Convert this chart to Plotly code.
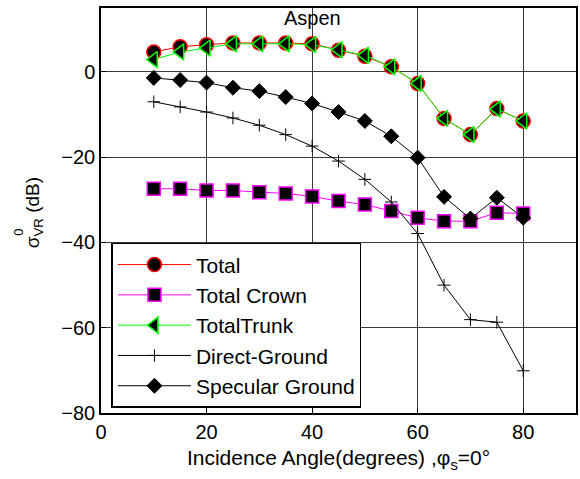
import plotly.graph_objects as go

angles = [10, 15, 20, 25, 30, 35, 40, 45, 50, 55, 60, 65, 70, 75, 80]
total = [4.7, 5.9, 6.4, 6.8, 6.8, 6.8, 6.6, 5.1, 3.7, 1.2, -2.7, -10.9, -14.7, -8.6, -11.5]
total_crown = [-27.4, -27.4, -27.8, -27.8, -28.2, -28.5, -29.2, -30.3, -31.1, -32.6, -34.2, -35.0, -35.0, -33.0, -33.2]
total_trunk = [2.9, 4.7, 5.6, 6.6, 6.6, 6.6, 6.4, 5.2, 3.9, 1.2, -2.7, -10.9, -14.7, -8.7, -11.5]
direct_ground = [-7.0, -8.2, -9.4, -10.8, -12.5, -14.7, -17.4, -20.9, -25.2, -30.5, -37.9, -50.0, -58.1, -58.7, -70.1]
specular_ground = [-1.4, -1.9, -2.5, -3.7, -4.5, -5.9, -7.4, -9.4, -11.5, -15.1, -20.1, -29.3, -34.4, -29.5, -34.2]

x_ticks = [0, 20, 40, 60, 80]
y_ticks = [-80, -60, -40, -20, 0]

FONT = "Liberation Sans, Arial, sans-serif"

fig = go.Figure()
fig.add_trace(go.Scatter(
    x=angles, y=total, name="Total", mode="lines+markers",
    line=dict(color="#ff0000", width=1),
    marker=dict(symbol="circle", size=14, color="black", line=dict(color="#ff0000", width=1.5))))
fig.add_trace(go.Scatter(
    x=angles, y=total_crown, name="Total Crown", mode="lines+markers",
    line=dict(color="#ff00ff", width=1),
    marker=dict(symbol="square", size=13, color="black", line=dict(color="#ff00ff", width=1.5))))
fig.add_trace(go.Scatter(
    x=angles, y=total_trunk, name="TotalTrunk", mode="lines+markers",
    line=dict(color="#00ff00", width=1),
    marker=dict(symbol="triangle-left", size=14, color="black", line=dict(color="#00ff00", width=1.5))))
fig.add_trace(go.Scatter(
    x=angles, y=direct_ground, name="Direct-Ground", mode="lines+markers",
    line=dict(color="black", width=1),
    marker=dict(symbol="cross-thin-open", size=9, color="black", line=dict(color="black", width=1))))
fig.add_trace(go.Scatter(
    x=angles, y=specular_ground, name="Specular Ground", mode="lines+markers",
    line=dict(color="black", width=1),
    marker=dict(symbol="diamond", size=11.5, color="black", line=dict(color="black", width=1))))

axis_common = dict(
    showline=True, linecolor="black", linewidth=1.5, mirror=True,
    showgrid=True, gridcolor="#3a3a3a", gridwidth=1,
    ticks="inside", ticklen=5, tickcolor="black",
    zeroline=False,
    tickfont=dict(family=FONT, size=20, color="black"),
)

L, R, T, B = 101, 2, 8, 66
PW, PH = 580 - L - R, 479 - T - B


def px_to_paper(px, py):
    return (px - L) / PW, (479 - B - py) / PH


ytx, yty = px_to_paper(34, 213)
y0x, y0y = px_to_paper(17.5, 232)

fig.update_layout(
    width=580, height=479,
    margin=dict(l=L, r=R, t=T, b=B),
    paper_bgcolor="white", plot_bgcolor="white",
    font=dict(family=FONT, size=20, color="black"),
    showlegend=True,
    legend=dict(
        x=0.022, y=0.42, xanchor="left", yanchor="top",
        bgcolor="white", bordercolor="black", borderwidth=1.5,
        font=dict(family=FONT, size=21, color="black"),
        itemwidth=73,
    ),
    annotations=[
        dict(text="Aspen", x=0.5, y=1, xref="paper", yref="paper",
             xanchor="center", yanchor="top", showarrow=False,
             font=dict(family=FONT, size=20, color="black"), xshift=-26, yshift=3),
        dict(text="σ<sub>VR</sub> (dB)", x=ytx, y=yty, xref="paper", yref="paper",
             xanchor="center", yanchor="middle", showarrow=False, textangle=-90,
             font=dict(family=FONT, size=19, color="black")),
        dict(text="0", x=y0x, y=y0y, xref="paper", yref="paper",
             xanchor="center", yanchor="middle", showarrow=False, textangle=-90,
             font=dict(family=FONT, size=13, color="black")),
    ],
)
fig.update_xaxes(range=[0, 90], tickvals=x_ticks,
                 title=dict(text="Incidence Angle(degrees) ,φ<sub>s</sub>=0°",
                            font=dict(family=FONT, size=21), standoff=9),
                 **axis_common)
fig.update_yaxes(range=[-80, 15], tickvals=y_ticks, **axis_common)

fig.write_html("out.html")
